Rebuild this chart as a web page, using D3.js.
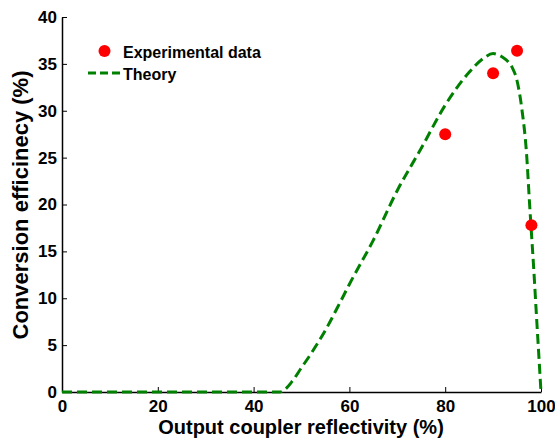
<!DOCTYPE html>
<html>
<head>
<meta charset="utf-8">
<script src="https://cdn.jsdelivr.net/npm/d3@7"></script>
<style>
  body { margin: 0; background: #fff; }
  svg text { font-family: "Liberation Sans", Arial, sans-serif; font-weight: bold; fill: #000; }
</style>
</head>
<body>
<svg id="chart" width="555" height="440"></svg>
<script>
const expX = [80, 90, 95, 98];
const expY = [27.5, 34, 36.4, 17.8];
const theoryX = [0, 45.5, 46.5, 48, 50, 52, 55, 58, 60, 65, 70, 75, 80, 85, 88, 90, 92, 93, 94, 95, 96, 97, 97.6, 98, 98.5, 99, 99.5, 100];
const theoryY = [0, 0, 0.25, 1.1, 2.6, 4.1, 6.6, 9.5, 11.5, 16.2, 21.5, 26, 30.6, 34.1, 35.6, 36.1, 35.7, 35.3, 34.6, 33.2, 30.2, 25.3, 20.2, 17, 13, 8.6, 4.3, 0];
const xTicks = [0, 20, 40, 60, 80, 100];
const yTicks = [0, 5, 10, 15, 20, 25, 30, 35, 40];
const legendLabels = ["Experimental data", "Theory"];
const xTitle = "Output coupler reflectivity (%)";
const yTitle = "Conversion efficinecy (%)";

const svg = d3.select("#chart");
const x = d3.scaleLinear().domain([0, 100]).range([62, 541]);
const y = d3.scaleLinear().domain([0, 40]).range([392, 17]);

// axes
const xAxis = d3.axisBottom(x).tickValues(xTicks).tickSizeInner(-5).tickSizeOuter(0).tickPadding(8);
const yAxis = d3.axisLeft(y).tickValues(yTicks).tickSizeInner(-5).tickSizeOuter(0).tickPadding(5);

const gx = svg.append("g").attr("transform", "translate(0,392)").call(xAxis);
const gy = svg.append("g").attr("transform", "translate(62,0)").call(yAxis);
[gx, gy].forEach(g => {
  g.select(".domain").attr("stroke", "#000").attr("stroke-width", 1.5);
  g.selectAll(".tick line").attr("stroke", "#000").attr("stroke-width", 1);
  g.selectAll(".tick text").style("font-size", "17px").style("font-family", "Liberation Sans, Arial, sans-serif").style("font-weight", "bold").attr("fill", "#000");
});

// titles
svg.append("text").attr("x", 301).attr("y", 434).attr("text-anchor", "middle")
  .style("font-size", "20px").text(xTitle);
svg.append("text").attr("transform", "translate(28,205) rotate(-90)").attr("text-anchor", "middle")
  .style("font-size", "22px").text(yTitle);

// theory line
const pts = theoryX.map((d, i) => [d, theoryY[i]]);
const line = d3.line().x(d => x(d[0])).y(d => y(d[1])).curve(d3.curveMonotoneX);
svg.append("path").datum(pts).attr("d", line)
  .attr("fill", "none").attr("stroke", "#008000").attr("stroke-width", 3)
  .attr("stroke-dasharray", "10,5");

// experimental points
svg.selectAll("circle.exp").data(expX.map((d, i) => [d, expY[i]])).enter()
  .append("circle").attr("class", "exp")
  .attr("cx", d => x(d[0])).attr("cy", d => y(d[1])).attr("r", 6)
  .attr("fill", "#ff0000");

// legend
svg.append("circle").attr("cx", 104.5).attr("cy", 51).attr("r", 6).attr("fill", "#ff0000");
svg.append("line").attr("x1", 88).attr("x2", 120).attr("y1", 73).attr("y2", 73)
  .attr("stroke", "#008000").attr("stroke-width", 3).attr("stroke-dasharray", "8,4");
svg.append("text").attr("x", 123).attr("y", 57.5).style("font-size", "16px").text(legendLabels[0]);
svg.append("text").attr("x", 123).attr("y", 80).style("font-size", "16px").text(legendLabels[1]);
</script>
</body>
</html>
